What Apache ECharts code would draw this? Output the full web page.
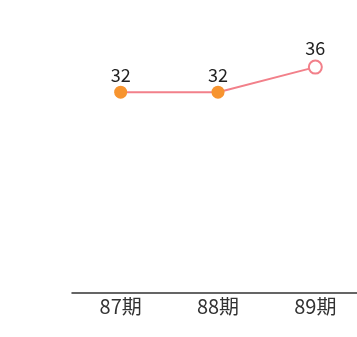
<!DOCTYPE html>
<html><head><meta charset="utf-8">
<script src="https://cdn.jsdelivr.net/npm/echarts@6/dist/echarts.min.js"></script>
<style>html,body{margin:0;padding:0;background:#fff;overflow:hidden}#c{width:364px;height:337px}</style>
</head><body><div id="c"></div>
<script>
const categories = ['87期', '88期', '89期'];
const values = [32, 32, 36];
const chart = echarts.init(document.getElementById('c'));
const font = '"Noto Sans CJK JP", "Noto Sans", sans-serif';
chart.setOption({
  animation: false,
  grid: { left: 72, right: 0, top: 42, bottom: 44 },
  xAxis: {
    type: 'category', data: categories,
    axisLine: { lineStyle: { color: '#333', width: 1.5 } },
    axisTick: { show: false },
    axisLabel: { color: '#333', fontSize: 20, fontFamily: font, margin: 3 }
  },
  yAxis: { type: 'value', min: 0, max: 40, show: false, splitLine: { show: false } },
  series: [{
    type: 'line',
    data: values.map((v, i) => i === values.length - 1
      ? { value: v, itemStyle: { color: '#fff', borderColor: '#F2808A', borderWidth: 2 } }
      : { value: v }),
    symbol: 'circle', symbolSize: 13,
    lineStyle: { color: '#F2808A', width: 2 },
    itemStyle: { color: '#F7942F', borderWidth: 0 },
    label: { show: true, position: 'top', distance: 2, color: '#222', fontSize: 18, fontFamily: font }
  }]
});
</script></body></html>
